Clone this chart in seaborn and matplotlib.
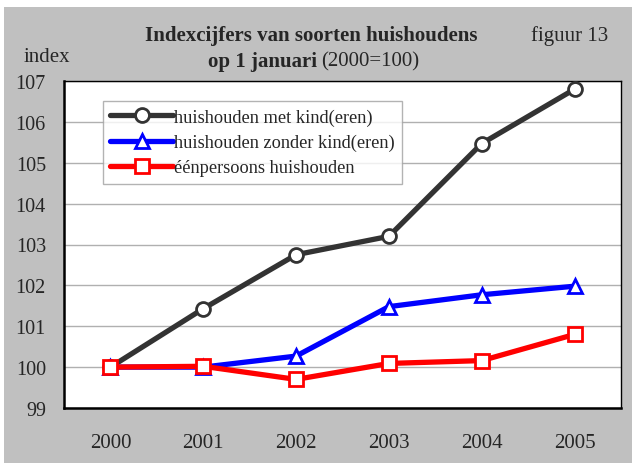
import matplotlib
matplotlib.use("Agg")
import matplotlib.pyplot as plt
from matplotlib.patches import Rectangle
import seaborn as sns
import pandas as pd

years = ["2000", "2001", "2002", "2003", "2004", "2005"]
met_kind = [100.0, 101.43, 102.75, 103.2, 105.47, 106.8]
zonder_kind = [100.0, 100.0, 100.27, 101.48, 101.77, 101.98]
eenpersoons = [100.0, 100.02, 99.7, 100.09, 100.16, 100.8]

series_names = ["huishouden met kind(eren)", "huishouden zonder kind(eren)", "éénpersoons huishouden"]
series_values = [met_kind, zonder_kind, eenpersoons]

rows = []
for name, vals in zip(series_names, series_values):
    for i, v in enumerate(vals):
        rows.append({"pos": i, "index": v, "soort": name})
df = pd.DataFrame(rows)

sns.set_style("white")
plt.rcParams["font.family"] = ["Liberation Serif", "DejaVu Serif"]

fig = plt.figure(figsize=(6.32, 4.64), dpi=100)
fig.patch.set_facecolor("white")
# grey panel behind everything (small white margin top and left)
fig.patches.append(Rectangle((4 / 632, 0), 1, (464 - 8) / 464, transform=fig.transFigure,
                             facecolor="#c0c0c0", edgecolor="none", zorder=-10))

ax = fig.add_axes([64 / 632, 1 - 409 / 464, (621 - 64) / 632, (409 - 82) / 464])
ax.set_facecolor("white")

palette = {series_names[0]: "#333333", series_names[1]: "#0000ff", series_names[2]: "#ff0000"}
markers = {series_names[0]: "o", series_names[1]: "^", series_names[2]: "s"}

sns.lineplot(data=df, x="pos", y="index", hue="soort", style="soort", palette=palette,
             markers=markers, dashes=False, linewidth=3.8, markersize=10,
             ax=ax, zorder=3)

# hollow markers with coloured edges
for ln in ax.lines:
    ln.set_markerfacecolor("white")
    ln.set_markeredgecolor(ln.get_color())
    ln.set_markeredgewidth(2)

ax.set_ylim(99, 107)
ax.set_yticks(range(99, 108))
ax.set_xlim(-0.5, 5.5)
ax.set_xticks([i - 0.5 for i in range(7)])
ax.set_xticklabels([])
ax.set_xticks(range(6), minor=True)
ax.set_xticklabels(years, minor=True)
ax.tick_params(axis="x", which="minor", length=0, pad=18, labelsize=15)
ax.tick_params(axis="x", which="major", length=6, width=1, direction="out", color="black")
ax.tick_params(axis="y", length=6, width=1, direction="out", color="black", labelsize=14.5, pad=7)
ax.yaxis.grid(True, color="#b0b0b0", linewidth=1)
ax.set_axisbelow(True)
ax.set_xlabel("")
ax.set_ylabel("")

for side in ["left", "bottom"]:
    ax.spines[side].set_linewidth(1.8)
    ax.spines[side].set_color("black")
for side in ["top", "right"]:
    ax.spines[side].set_linewidth(1.0)
    ax.spines[side].set_color("black")

leg = ax.legend(loc="upper left", bbox_to_anchor=((103 - 64) / 557, 1 - (102 - 82) / 327),
                fontsize=13.2, frameon=True, fancybox=False, borderaxespad=0,
                handlelength=3.4, handletextpad=0.1, labelspacing=0.45, borderpad=0.4)
leg.get_frame().set_edgecolor("#a0a0a0")
leg.get_frame().set_linewidth(1)
for h in leg.legend_handles:
    h.set_markerfacecolor("white")
    h.set_markeredgecolor(h.get_color())
    h.set_markeredgewidth(2)

fig.text(311 / 632, 1 - 36 / 464, "Indexcijfers van soorten huishoudens", ha="center", va="center",
         fontsize=15, fontweight="bold")
fig.text(317 / 632, 1 - 62 / 464, "op 1 januari", ha="right", va="center", fontsize=15, fontweight="bold")
fig.text(321 / 632, 1 - 62 / 464, "(2000=100)", ha="left", va="center", fontsize=15)
fig.text(570 / 632, 1 - 36 / 464, "figuur 13", ha="center", va="center", fontsize=15)
fig.text(47 / 632, 1 - 57 / 464, "index", ha="center", va="center", fontsize=15)

fig.savefig("out.png", dpi=100, facecolor=fig.get_facecolor())
